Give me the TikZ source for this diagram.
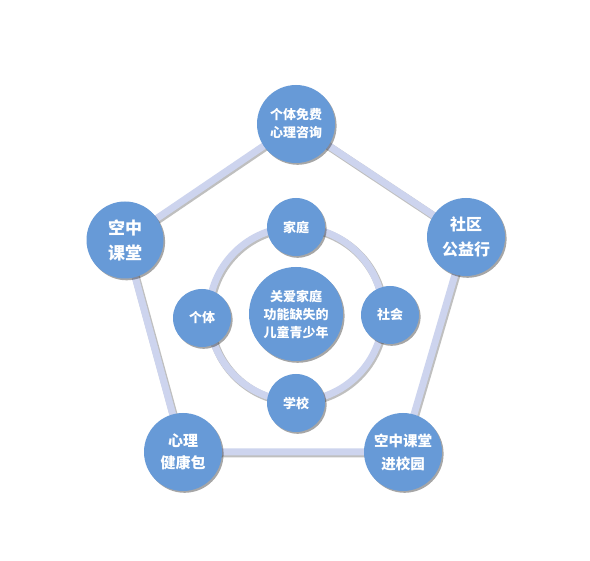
\documentclass[tikz,border=0pt]{standalone}
\usepackage{fontspec}
\newfontfamily\cjk{Noto Sans CJK SC}
\usetikzlibrary{shadows,backgrounds}
\definecolor{bubblue}{HTML}{679AD7}
\definecolor{bandlav}{HTML}{CDD4EE}
\begin{document}
\begin{tikzpicture}[x=1pt,y=-1pt,
  bub/.style={circle, fill=bubblue, inner sep=0pt, text=white, align=center,
    font=\cjk\bfseries,
    drop shadow={shadow xshift=1.6pt, shadow yshift=-1.8pt, opacity=0.35, fill=black}},
  band/.style={line width=7pt, draw=bandlav},
  bandsh/.style={line width=8pt, draw=black!55, opacity=0.45,
    transform canvas={shift={(1.2pt,-1.4pt)}}},
]
\useasboundingbox (0,0) rectangle (590,561);
% outer nodes
\node[bub, minimum size=78pt, font=\cjk\bfseries\fontsize{13}{18}\selectfont] (top) at (296,124) {个体免费\\心理咨询};
\node[bub, minimum size=77pt, font=\cjk\bfseries\fontsize{17}{25}\selectfont] (ul) at (125,240) {空中\\课堂};
\node[bub, minimum size=78pt, font=\cjk\bfseries\fontsize{16}{25}\selectfont] (ur) at (466,237) {社区\\公益行};
\node[bub, minimum size=78pt, font=\cjk\bfseries\fontsize{15}{22}\selectfont] (ll) at (183,452) {心理\\健康包};
\node[bub, minimum size=78pt, font=\cjk\bfseries\fontsize{14.5}{23}\selectfont] (lr) at (403,452) {空中课堂\\进校园};
% center
\node[bub, minimum size=94pt, font=\cjk\bfseries\fontsize{13}{18}\selectfont] (c) at (296,314) {关爱家庭\\功能缺失的\\儿童青少年};
% inner ring nodes
\node[bub, minimum size=58pt, font=\cjk\bfseries\fontsize{13}{16}\selectfont] (jt) at (296,227) {家庭};
\node[bub, minimum size=58pt, font=\cjk\bfseries\fontsize{13}{16}\selectfont] (gt) at (202,318) {个体};
\node[bub, minimum size=58pt, font=\cjk\bfseries\fontsize{13}{16}\selectfont] (sh) at (390,315) {社会};
\node[bub, minimum size=58pt, font=\cjk\bfseries\fontsize{13}{16}\selectfont] (xx) at (296,403) {学校};
\begin{scope}[on background layer]
  \fill[white] (0,0) rectangle (590,561);
  \draw[bandsh] (top.center) -- (ur.center) -- (lr.center) -- (ll.center) -- (ul.center) -- cycle;
  \draw[band] (top.center) -- (ur.center) -- (lr.center) -- (ll.center) -- (ul.center) -- cycle;
  \draw[bandsh] (c.center) circle[radius=87];
  \draw[band] (c.center) circle[radius=87];
\end{scope}
\end{tikzpicture}
\end{document}
